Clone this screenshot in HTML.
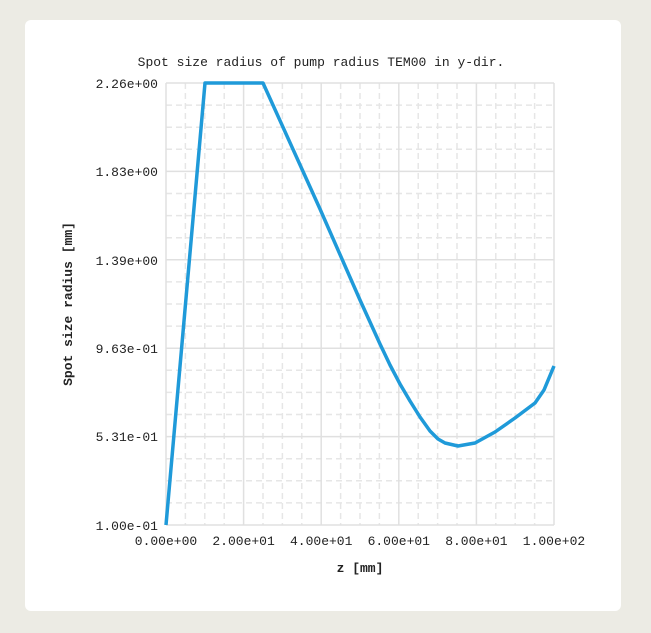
<!DOCTYPE html>
<html><head><style>
body{margin:0;width:651px;height:633px;background:#ecebe4;overflow:hidden}
.card{position:absolute;left:25px;top:20px;width:596px;height:591px;background:#fff;border-radius:6px}
svg{position:absolute;left:0;top:0}
text{font-family:"Liberation Mono","Noto Sans CJK SC",monospace;fill:#222}
</style></head><body>
<div class="card"></div>
<svg width="651" height="633">
<g stroke="#e6e6e6" stroke-width="1.5" stroke-dasharray="6,4" fill="none">
<path d="M185.4 83V525M204.8 83V525M224.2 83V525M263 83V525M282.4 83V525M301.8 83V525M340.6 83V525M360 83V525M379.4 83V525M418.2 83V525M437.6 83V525M457 83V525M495.8 83V525M515.2 83V525M534.6 83V525"/>
<path d="M166 105.1H554M166 127.2H554M166 149.3H554M166 193.5H554M166 215.6H554M166 237.7H554M166 281.9H554M166 304H554M166 326.1H554M166 370.3H554M166 392.4H554M166 414.5H554M166 458.7H554M166 480.8H554M166 502.9H554"/>
</g>
<g stroke="#e0e0e0" stroke-width="1.5" fill="none">
<path d="M166 83V525M243.6 83V525M321.2 83V525M398.8 83V525M476.4 83V525M554 83V525"/>
<path d="M166 83H554M166 171.4H554M166 259.8H554M166 348.2H554M166 436.6H554M166 525H554"/>
</g>
<polyline fill="none" stroke="#1f9ad9" stroke-width="3.5" stroke-linejoin="round" points="166,525 205,83 263,83 320,209 360,300 380,344 390,365 400,384 410,401 420,417 430,431 438,439 445,443 458,446 475,443 495,432 515,418 535,403 544,390 554,366"/>
<g font-size="13" text-anchor="end">
<text x="158" y="88">2.26e+00</text>
<text x="158" y="176">1.83e+00</text>
<text x="158" y="265">1.39e+00</text>
<text x="158" y="353">9.63e-01</text>
<text x="158" y="441">5.31e-01</text>
<text x="158" y="530">1.00e-01</text>
</g>
<g font-size="13" text-anchor="middle">
<text x="166" y="545">0.00e+00</text>
<text x="243.6" y="545">2.00e+01</text>
<text x="321.2" y="545">4.00e+01</text>
<text x="398.8" y="545">6.00e+01</text>
<text x="476.4" y="545">8.00e+01</text>
<text x="554" y="545">1.00e+02</text>
</g>
<text x="321" y="66" font-size="13" text-anchor="middle">Spot size radius of pump radius TEM00 in y-dir.</text>
<text x="360" y="572" font-size="13" font-weight="bold" text-anchor="middle">z [mm]</text>
<text transform="translate(72,304) rotate(-90)" font-size="13" font-weight="bold" text-anchor="middle">Spot size radius [mm]</text>
</svg>
</body></html>
